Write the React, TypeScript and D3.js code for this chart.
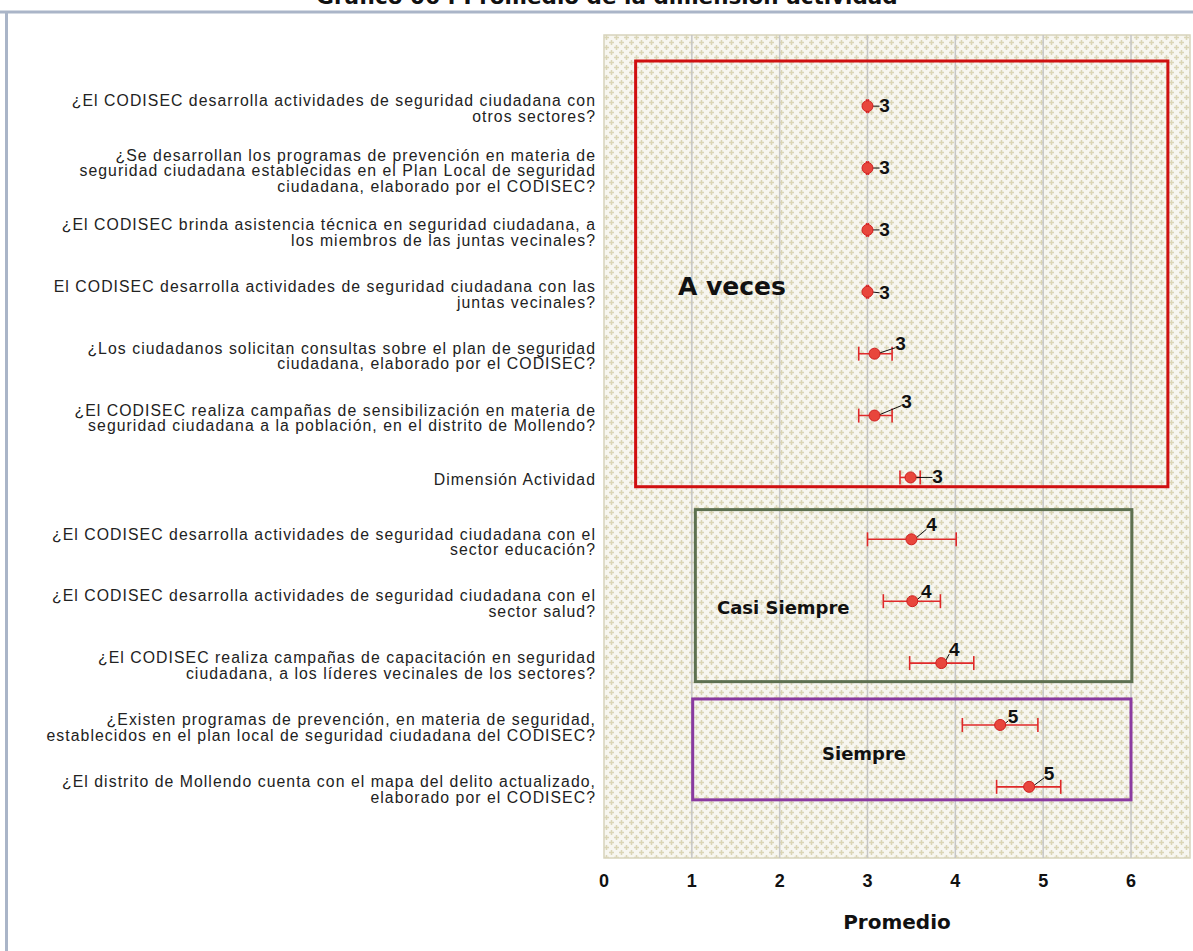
import React from "react";
import * as d3 from "d3";

// preguntas (cada una en sus líneas) de arriba hacia abajo
const questions: string[][] = [
  ["¿El CODISEC desarrolla actividades de seguridad ciudadana con", "otros sectores?"],
  ["¿Se desarrollan los programas de prevención en materia de", "seguridad ciudadana establecidas en el Plan Local de seguridad", "ciudadana, elaborado por el CODISEC?"],
  ["¿El CODISEC brinda asistencia técnica en seguridad ciudadana, a", "los miembros de las juntas vecinales?"],
  ["El CODISEC desarrolla actividades de seguridad ciudadana con las", "juntas vecinales?"],
  ["¿Los ciudadanos solicitan consultas sobre el plan de seguridad", "ciudadana, elaborado por el CODISEC?"],
  ["¿El CODISEC realiza campañas de sensibilización en materia de", "seguridad ciudadana a la población, en el distrito de Mollendo?"],
  ["Dimensión Actividad"],
  ["¿El CODISEC desarrolla actividades de seguridad ciudadana con el", "sector educación?"],
  ["¿El CODISEC desarrolla actividades de seguridad ciudadana con el", "sector salud?"],
  ["¿El CODISEC realiza campañas de capacitación en seguridad", "ciudadana, a los líderes vecinales de los sectores?"],
  ["¿Existen programas de prevención, en materia de seguridad,", "establecidos en el plan local de seguridad ciudadana del CODISEC?"],
  ["¿El distrito de Mollendo cuenta con el mapa del delito actualizado,", "elaborado por el CODISEC?"],
];

const means = [3.0, 3.0, 3.0, 3.0, 3.08, 3.08, 3.49, 3.5, 3.51, 3.84, 4.51, 4.84];
const lower = [2.99, 2.99, 2.99, 2.99, 2.9, 2.9, 3.37, 3.0, 3.18, 3.48, 4.08, 4.47];
const upper = [3.01, 3.01, 3.01, 3.01, 3.28, 3.28, 3.6, 4.01, 3.83, 4.21, 4.94, 5.2];
const valueLabels = ["3", "3", "3", "3", "3", "3", "3", "4", "4", "4", "5", "5"];

const xTicks = [0, 1, 2, 3, 4, 5, 6];

// recuadros de categoría
const zoneNames = ["A veces", "Casi Siempre", "Siempre"];
const zoneX0 = [0.36, 1.04, 1.01];
const zoneX1 = [6.42, 6.01, 6.0];
const zoneColors = ["#d01010", "#5d7050", "#8a3aa0"];

// desplazamiento de etiquetas de valor (px)
const labelOffsets: [number, number][] = [
  [17, 0], [17, 0], [17, 0], [17, 1], [26, -10], [32, -14], [27, 0],
  [20, -14], [14, -9], [13, -13], [13, -8], [20, -13],
];

const W = 1193;
const H = 951;
const plot = { left: 604, right: 1190, top: 35, bottom: 858 };
const sans = "'DejaVu Sans', Verdana, sans-serif";
const arial = "'Liberation Sans', Arial, sans-serif";
const narrow = "'Liberation Sans Narrow', 'Arial Narrow', 'Liberation Sans', sans-serif";

export default function App() {
  const x = d3.scaleLinear().domain([0, 6]).range([plot.left, 1131]);
  const y = d3
    .scalePoint<number>()
    .domain(d3.range(questions.length))
    .range([plot.top, plot.bottom])
    .padding(1.15);
  const step = y.step();

  const zoneY = [
    [y(0)! - step * 0.73, y(6)! + step * 0.15],
    [y(7)! - step * 0.48, y(9)! + step * 0.3],
    [y(10)! - step * 0.42, y(11)! + step * 0.21],
  ];
  const zoneLabelPos: [number, number, number][] = [
    [678, 295, 25],
    [717, 614, 18],
    [822, 760, 18],
  ];

  return (
    <svg
      width={W}
      height={H}
      style={{ position: "absolute", left: 0, top: 0, background: "#fff" }}
      fontFamily={sans}
    >
      <defs>
        <pattern id="cross" width="10" height="10" patternUnits="userSpaceOnUse" x={plot.left} y={plot.top}>
          <rect width="10" height="10" fill="#f7f6f0" />
          <path d="M2.5,0 v5 M0,2.5 h5" stroke="#dad5b6" strokeWidth="1.5" />
          <path d="M7.5,5 v5 M5,7.5 h5" stroke="#dad5b6" strokeWidth="1.5" />
        </pattern>
      </defs>

      {/* titulo cortado arriba */}
      <text x={607} y={4} textAnchor="middle" fontSize={21.5} fontWeight="bold" fill="#111">
        Gráfico 06 : Promedio de la dimensión actividad
      </text>

      {/* marco */}
      <line x1={0} x2={W} y1={12} y2={12} stroke="#aab5c8" strokeWidth={3} />
      <line x1={6.5} x2={6.5} y1={12} y2={H} stroke="#aab5c8" strokeWidth={3} />

      {/* area de graficos */}
      <rect
        x={plot.left}
        y={plot.top}
        width={plot.right - plot.left}
        height={plot.bottom - plot.top}
        fill="url(#cross)"
        stroke="#d8d4bc"
        strokeWidth={1.5}
      />
      {xTicks.slice(1).map((t) => (
        <line key={t} x1={x(t)} x2={x(t)} y1={plot.top} y2={plot.bottom} stroke="#c6c6c6" strokeWidth={1.5} />
      ))}

      {/* recuadros */}
      {zoneNames.map((n, i) => (
        <rect
          key={n}
          x={x(zoneX0[i])}
          y={zoneY[i][0]}
          width={x(zoneX1[i]) - x(zoneX0[i])}
          height={zoneY[i][1] - zoneY[i][0]}
          fill="none"
          stroke={zoneColors[i]}
          strokeWidth={3}
        />
      ))}
      {zoneNames.map((n, i) => (
        <text key={n} x={zoneLabelPos[i][0]} y={zoneLabelPos[i][1]} fontSize={zoneLabelPos[i][2]} fontWeight="bold" fill="#111">
          {n}
        </text>
      ))}

      {/* etiquetas de preguntas */}
      {questions.map((lines, i) => {
        const lh = 15.5;
        const y0 = y(i)! - ((lines.length - 1) * lh) / 2 + 8;
        return (
          <text key={i} x={596} textAnchor="end" fontFamily={arial} fontSize={15.8} letterSpacing={1.05} fill="#222">
            {lines.map((l, j) => (
              <tspan key={j} x={596} y={y0 + j * lh}>
                {l}
              </tspan>
            ))}
          </text>
        );
      })}

      {/* barras de error y medias */}
      {means.map((m, i) => {
        const cy = y(i)!;
        const cx = x(m);
        const [dx, dy] = labelOffsets[i];
        const lx = cx + dx;
        const ly = cy + dy;
        return (
          <g key={i}>
            <line x1={x(lower[i])} x2={x(upper[i])} y1={cy} y2={cy} stroke="#e02a2a" strokeWidth={1.6} />
            <line x1={x(lower[i])} x2={x(lower[i])} y1={cy - 7} y2={cy + 7} stroke="#e02a2a" strokeWidth={1.6} />
            <line x1={x(upper[i])} x2={x(upper[i])} y1={cy - 7} y2={cy + 7} stroke="#e02a2a" strokeWidth={1.6} />
            <line x1={cx + 3} y1={cy} x2={lx - 5} y2={ly + (dy < 0 ? 4 : 0)} stroke="#111" strokeWidth={1} />
            <circle cx={cx} cy={cy} r={5.5} fill="#e8463c" stroke="#d02020" strokeWidth={1} />
            <text x={lx} y={ly + 6} textAnchor="middle" fontFamily={narrow} fontSize={19} fontWeight="bold" fill="#111">
              {valueLabels[i]}
            </text>
          </g>
        );
      })}

      {/* eje x */}
      {xTicks.map((t) => (
        <text key={t} x={x(t)} y={887} textAnchor="middle" fontFamily={narrow} fontSize={18} fontWeight="bold" fill="#111">
          {t}
        </text>
      ))}
      <text x={897} y={929} textAnchor="middle" fontSize={20} fontWeight="bold" fill="#111">
        Promedio
      </text>
    </svg>
  );
}
